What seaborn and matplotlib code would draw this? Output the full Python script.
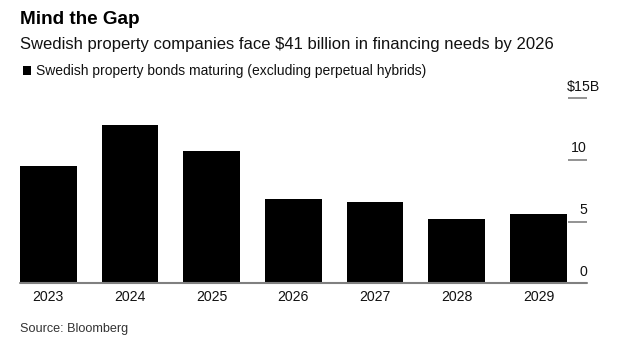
import matplotlib
matplotlib.use("Agg")
import matplotlib.pyplot as plt
import matplotlib.transforms as mtransforms
from matplotlib.patches import Rectangle
import seaborn as sns
import pandas as pd

years = ["2023", "2024", "2025", "2026", "2027", "2028", "2029"]
bonds_maturing = [9.5, 12.8, 10.7, 6.8, 6.6, 5.2, 5.6]
tick_values = [0, 5, 10, 15]
tick_labels = ["0", "5", "10", "$15B"]

sns.set_theme(style="white")
plt.rcParams["font.family"] = ["Liberation Sans", "DejaVu Sans"]

df = pd.DataFrame({"year": years, "value": bonds_maturing})

W, H = 620, 346
fig = plt.figure(figsize=(W / 100, H / 100), dpi=100)
ax_left, ax_right, ax_bottom, ax_top = 20, 587, 283.3, 98.3
ax = fig.add_axes([ax_left / W, 1 - ax_bottom / H, (ax_right - ax_left) / W, (ax_bottom - ax_top) / H])

sns.barplot(data=df, x="year", y="value", color="black", width=0.694,
            saturation=1, edgecolor="none", linewidth=0, ax=ax)

ax.set_xlim(-0.347, 6.594)
ax.set_ylim(0, 15)
for s in ax.spines.values():
    s.set_visible(False)
ax.axhline(0, color="#808080", lw=1.5, zorder=3, clip_on=False)

ax.set_xlabel("")
ax.set_ylabel("")
ax.tick_params(axis="x", length=0, pad=5, labelsize=10.2, labelcolor="#111111")

ax.yaxis.tick_right()
ax.set_yticks(tick_values)
ax.set_yticklabels([])
ax.tick_params(axis="y", direction="in", length=14, width=1.2, color="#808080", pad=0)

trans = mtransforms.blended_transform_factory(ax.transAxes, ax.transData)
for v, lab in zip(tick_values, tick_labels):
    off = mtransforms.offset_copy(trans, fig=fig, x=0, y=8.3, units="points")
    if lab.startswith("$"):
        ax.text(1 + 13 / 567, v, lab, transform=off, ha="right", va="center",
                fontsize=10.2, color="#111111")
    else:
        ax.text(1.0, v, lab, transform=off, ha="right", va="center",
                fontsize=10.2, color="#111111")

fig.text(20.5 / W, 1 - 20 / H, "Mind the Gap", fontsize=13.6, fontweight="bold",
         ha="left", va="center", color="black")
fig.text(20.5 / W, 1 - 45 / H, "Swedish property companies face $41 billion in financing needs by 2026",
         fontsize=12, ha="left", va="center", color="#111111")
fig.patches.append(Rectangle((22.5 / W, 1 - 74.5 / H), 8.5 / W, 8.5 / H, transform=fig.transFigure,
                             facecolor="black", edgecolor="none"))
fig.text(36 / W, 1 - 71 / H, "Swedish property bonds maturing (excluding perpetual hybrids)",
         fontsize=10, ha="left", va="center", color="#111111")
fig.text(20.5 / W, 1 - 329 / H, "Source: Bloomberg", fontsize=9.1, ha="left", va="center",
         color="#333333")

fig.savefig("out.png", dpi=100)
